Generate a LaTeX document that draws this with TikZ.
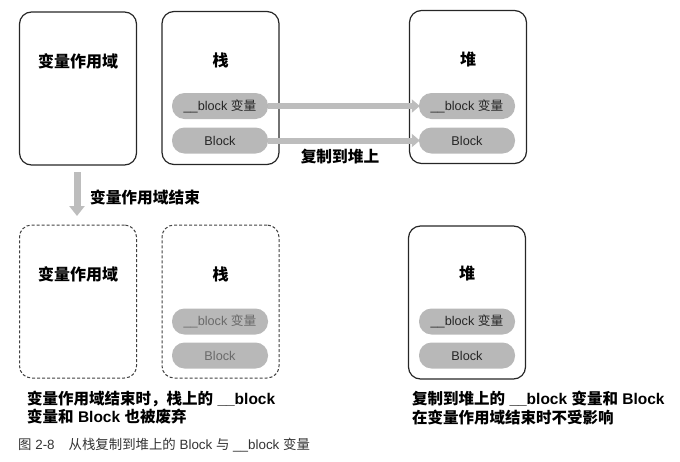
\documentclass[tikz,border=0pt]{standalone}
\usepackage{fontspec}
\setmainfont{Liberation Sans}
\newfontfamily\cjk{Noto Sans CJK SC}
\usetikzlibrary{arrows.meta}
\definecolor{pillgray}{HTML}{B8B8B8}
\definecolor{arrgray}{HTML}{BDBDBD}
\definecolor{fadetext}{HTML}{6A6A6A}
\definecolor{captext}{HTML}{333333}
\tikzset{
  box/.style={draw=black!85, line width=1.2pt, rounded corners=12pt, minimum width=117pt, minimum height=153pt, inner sep=0pt},
  dbox/.style={box, draw=black!75, dash pattern=on 3pt off 2pt, line width=1pt},
  title/.style={font=\cjk\bfseries\fontsize{16}{19}\selectfont, inner sep=0pt},
  pill/.style={fill=pillgray, rounded corners=12.5pt, minimum width=96pt, minimum height=26pt, inner sep=0pt, font=\fontsize{12.7}{15}\selectfont, text=black!85},
  fpill/.style={pill, text=fadetext},
  garrow/.style={draw=arrgray, line width=6pt, -{Triangle[length=8pt,width=13pt]}, shorten >=-1pt},
  lbl/.style={font=\cjk\bfseries\fontsize{15.7}{18}\selectfont, inner sep=0pt},
  captxt/.style={font=\bfseries\fontsize{15.5}{18}\selectfont, inner sep=0pt, anchor=west},
  figcap/.style={font=\fontsize{13.4}{15}\selectfont, text=captext, inner sep=0pt, anchor=west}
}
\begin{document}
\begin{tikzpicture}[x=1pt,y=-1pt]
\useasboundingbox (0,0) rectangle (680,461);
% top row
\node[box] (scopeA) at (78,88.5) {};
\node[box] (stackA) at (220.5,88) {};
\node[box] (heapA) at (468,87) {};
\node[title] (tscopeA) at (78,61) {变量作用域};
\node[title] (tstackA) at (220.5,60) {栈};
\node[title] (theapA) at (468,59) {堆};
\node[pill] (sbv) at (220,106) {\_\_block {\cjk 变量}};
\node[pill] (sbl) at (220,140.5) {Block};
\node[pill] (hbv) at (467,106) {\_\_block {\cjk 变量}};
\node[pill] (hbl) at (467,140.5) {Block};
\draw[garrow] (sbv.east) -- (hbv.west);
\draw[garrow] (sbl.east) -- (hbl.west);
\node[lbl] (copylbl) at (340,157) {复制到堆上};
% down arrow
\coordinate (dtop) at (77,172);
\coordinate (dbot) at (77,216);
\draw[draw=arrgray, line width=7pt, -{Triangle[length=10pt,width=15pt]}] (dtop) -- (dbot);
\node[lbl] (endlbl) at (145,197) {变量作用域结束};
% bottom row
\node[dbox] (scopeB) at (78,301.5) {};
\node[dbox] (stackB) at (220.5,301.5) {};
\node[box] (heapB) at (467,302.5) {};
\node[title] (tscopeB) at (78,274) {变量作用域};
\node[title] (tstackB) at (220.5,274) {栈};
\node[title] (theapB) at (467,273) {堆};
\node[fpill] (sbv2) at (220,321.5) {\_\_block {\cjk 变量}};
\node[fpill] (sbl2) at (220,355.5) {Block};
\node[pill] (hbv2) at (467,321.5) {\_\_block {\cjk 变量}};
\node[pill] (hbl2) at (467,355.5) {Block};
% captions
\node[captxt] (capl1) at (27,399) {{\cjk 变量作用域结束时，栈上的} \_\_block};
\node[captxt] (capl2) at (27,417) {{\cjk 变量和} Block {\cjk 也被废弃}};
\node[captxt] (capr1) at (412,399) {{\cjk 复制到堆上的} \_\_block {\cjk 变量和} Block};
\node[captxt] (capr2) at (412,418) {{\cjk 在变量作用域结束时不受影响}};
\node[figcap] (fig) at (18,445) {{\cjk 图} 2-8\hspace{14pt}{\cjk 从栈复制到堆上的} Block {\cjk 与} \_\_block {\cjk 变量}};
\end{tikzpicture}
\end{document}
